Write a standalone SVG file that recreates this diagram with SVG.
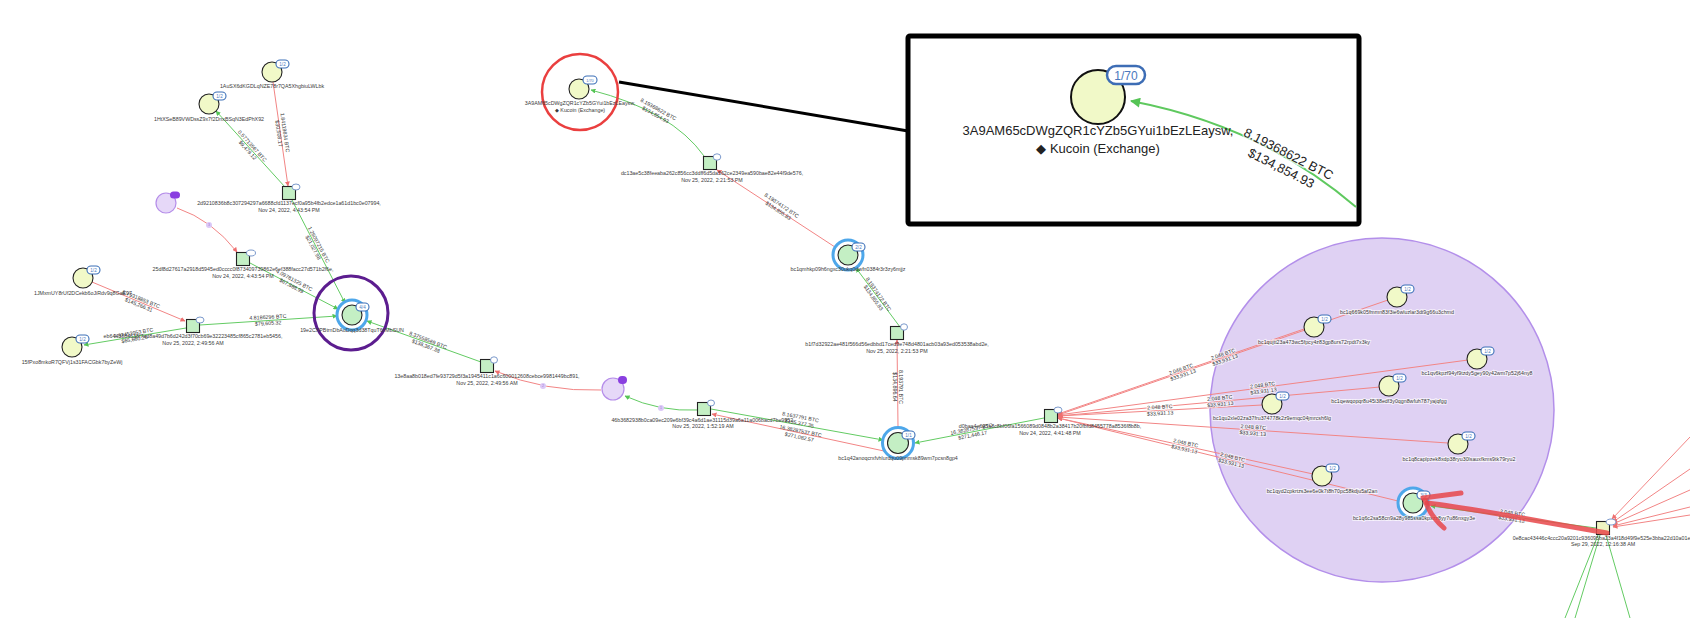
<svg xmlns="http://www.w3.org/2000/svg" width="1690" height="618" viewBox="0 0 1690 618">
<style>
text{font-family:"Liberation Sans",Arial,sans-serif}
.nl{font-size:5.3px;fill:#3a3a3a;text-anchor:middle}
.el{font-size:5.3px;fill:#333;text-anchor:middle}
.bt{font-size:4.6px;fill:#4a78bd;text-anchor:middle}
.addr{fill:#f1f9c8;stroke:#222;stroke-width:1.1}
.hub{fill:#c4efc4;stroke:#222;stroke-width:1.1}
.tx{fill:#c4efc4;stroke:#222;stroke-width:1.1}
.ty{fill:#eef5c2;stroke:#222;stroke-width:1.1}
.ring{fill:#fff;stroke:#4ea7ea;stroke-width:3}
.badge{fill:#fff;stroke:#3d70b8;stroke-width:1.1}
.txb{fill:#fff;stroke:#6d8fc6;stroke-width:0.9}
.g{stroke:#63cb63;stroke-width:1;fill:none}
.r{stroke:#f28585;stroke-width:1;fill:none}
.pc{fill:#e6d8f8;stroke:#b58de9;stroke-width:1.2}
.pb{fill:#8a3fe0}
.dot{fill:#dcc9f7}
.dt{font-size:3.5px;fill:#9a7ad6;text-anchor:middle}
.halo{paint-order:stroke;stroke:#fff;stroke-opacity:.6;stroke-width:2}
.scr{stroke:#e8474a;stroke-opacity:.85;stroke-width:5;fill:none;stroke-linecap:round;stroke-linejoin:round}
</style>
<defs>
<marker id="ag" viewBox="0 0 10 10" refX="9" refY="5" markerWidth="5" markerHeight="5" orient="auto" markerUnits="userSpaceOnUse"><path d="M0,0 L10,5 L0,10 z" fill="#55c455"/></marker>
<marker id="ar" viewBox="0 0 10 10" refX="9" refY="5" markerWidth="5" markerHeight="5" orient="auto" markerUnits="userSpaceOnUse"><path d="M0,0 L10,5 L0,10 z" fill="#ee6f6f"/></marker>
<marker id="agL" viewBox="0 0 10 10" refX="9" refY="5" markerWidth="11" markerHeight="10" orient="auto" markerUnits="userSpaceOnUse"><path d="M0,0 L10,5 L0,10 z" fill="#55c455"/></marker>
</defs>
<rect width="1690" height="618" fill="#fff"/>

<g id="cluster-bg"><circle cx="1382" cy="410" r="172" fill="#dfd1f3" stroke="#b38fea" stroke-width="1.5"/></g>

<g id="connectors">
<path class="g" marker-end="url(#ag)" d="M285,187 L216,111"/>
<path class="g" marker-end="url(#ag)" d="M292,200 L345,303"/>
<path class="g" marker-end="url(#ag)" d="M250,263 L338,309"/>
<path class="g" marker-end="url(#ag)" d="M186,328 L84,345"/>
<path class="g" marker-end="url(#ag)" d="M200,325 L337,316"/>
<path class="g" marker-end="url(#ag)" d="M481,362 L367,321"/>
<path class="g" marker-end="url(#ag)" d="M698,410 Q660,412 625,396"/>
<path class="g" marker-end="url(#ag)" d="M711,409 L883,440"/>
<path class="g" marker-end="url(#ag)" d="M1044,418 L915,443"/>
<path class="g" marker-end="url(#ag)" d="M900,327 L856,268"/>
<path class="g" marker-end="url(#ag)" d="M704,156 Q672,111 591,90"/>
<path class="g" marker-end="url(#ag)" d="M1596,528 L1431,506"/>
<path class="g" d="M1598,535 L1565,618"/>
<path class="g" d="M1600,535 L1575,618"/>
<path class="g" d="M1606,535 L1630,618"/>

<path class="r" marker-end="url(#ar)" d="M273,82 L288,186"/>
<path class="r" marker-end="url(#ar)" d="M177,208 Q212,220 237,252"/>
<path class="r" marker-end="url(#ar)" d="M92,282 L185,321"/>
<path class="r" marker-end="url(#ar)" d="M601,390 Q545,392 495,371"/>
<path class="r" marker-end="url(#ar)" d="M884,451 L712,414"/>
<path class="r" marker-end="url(#ar)" d="M898,427 L897,340"/>
<path class="r" marker-end="url(#ar)" d="M838,249 L717,170"/>
<path class="r" marker-end="url(#ar)" d="M1388,300 L1058,414"/>
<path class="r" marker-end="url(#ar)" d="M1305,330 L1058,415"/>
<path class="r" marker-end="url(#ar)" d="M1468,360 L1058,415"/>
<path class="r" marker-end="url(#ar)" d="M1380,387 L1058,416"/>
<path class="r" marker-end="url(#ar)" d="M1262,405 L1058,416"/>
<path class="r" marker-end="url(#ar)" d="M1448,443 L1058,417"/>
<path class="r" marker-end="url(#ar)" d="M1313,474 L1058,418"/>
<path class="r" marker-end="url(#ar)" d="M1398,501 L1058,418"/>
<path class="r" marker-end="url(#ar)" d="M1690,437 L1612,519"/>
<path class="r" marker-end="url(#ar)" d="M1690,469 L1613,522"/>
<path class="r" marker-end="url(#ar)" d="M1690,490 L1613,524"/>
<path class="r" marker-end="url(#ar)" d="M1690,507 L1613,526"/>
<path class="r" marker-end="url(#ar)" d="M1690,515 L1613,527"/>

<g id="edge-labels">
<g transform="translate(282,133) rotate(82)"><text class="el"><tspan x="0" y="-1.2">1.84119834 BTC</tspan><tspan x="0" y="5">$30,508.17</tspan></text></g>
<g transform="translate(250,148) rotate(48)"><text class="el"><tspan x="0" y="-1.2">0.57713567 BTC</tspan><tspan x="0" y="5">$9,479.12</tspan></text></g>
<g transform="translate(316,246) rotate(62)"><text class="el"><tspan x="0" y="-1.2">1.26097215 BTC</tspan><tspan x="0" y="5">$21,027.98</tspan></text></g>
<g transform="translate(293,283) rotate(28)"><text class="el"><tspan x="0" y="-1.2">4.09781325 BTC</tspan><tspan x="0" y="5">$67,888.99</tspan></text></g>
<g transform="translate(140,302) rotate(22)"><text class="el"><tspan x="0" y="-1.2">8.79318853 BTC</tspan><tspan x="0" y="5">$145,266.31</tspan></text></g>
<g transform="translate(134,336) rotate(-10)"><text class="el"><tspan x="0" y="-1.2">3.97453953 BTC</tspan><tspan x="0" y="5">$65,660.20</tspan></text></g>
<g transform="translate(268,320) rotate(-3)"><text class="el"><tspan x="0" y="-1.2">4.8186296 BTC</tspan><tspan x="0" y="5">$79,605.32</tspan></text></g>
<g transform="translate(427,343) rotate(21)"><text class="el"><tspan x="0" y="-1.2">8.37558569 BTC</tspan><tspan x="0" y="5">$138,367.38</tspan></text></g>
<g transform="translate(800,420) rotate(11)"><text class="el"><tspan x="0" y="-1.2">8.1637791 BTC</tspan><tspan x="0" y="5">$135,377.35</tspan></text></g>
<g transform="translate(800,434) rotate(12)"><text class="el"><tspan x="0" y="-1.2">16.38287537 BTC</tspan><tspan x="0" y="5">$271,082.57</tspan></text></g>
<g transform="translate(972,432) rotate(-11)"><text class="el"><tspan x="0" y="-1.2">16.38287537 BTC</tspan><tspan x="0" y="5">$271,446.17</tspan></text></g>
<g transform="translate(898,387) rotate(90)"><text class="el"><tspan x="0" y="-1.2">8.193791 BTC</tspan><tspan x="0" y="5">$134,896.64</tspan></text></g>
<g transform="translate(876,296) rotate(55)"><text class="el"><tspan x="0" y="-1.2">8.19374172 BTC</tspan><tspan x="0" y="5">$134,855.83</tspan></text></g>
<g transform="translate(780,208) rotate(34)"><text class="el"><tspan x="0" y="-1.2">8.19374172 BTC</tspan><tspan x="0" y="5">$134,855.83</tspan></text></g>
<g transform="translate(657,112) rotate(29)"><text class="el"><tspan x="0" y="-1.2">8.19368622 BTC</tspan><tspan x="0" y="5">$134,854.93</tspan></text></g>
<g transform="translate(1182,372) rotate(-19)"><text class="el halo"><tspan x="0" y="-1.2">2.048 BTC</tspan><tspan x="0" y="5">$33,931.13</tspan></text></g>
<g transform="translate(1224,357) rotate(-19)"><text class="el halo"><tspan x="0" y="-1.2">2.048 BTC</tspan><tspan x="0" y="5">$33,931.13</tspan></text></g>
<g transform="translate(1263,388) rotate(-7.6)"><text class="el halo"><tspan x="0" y="-1.2">2.048 BTC</tspan><tspan x="0" y="5">$33,931.13</tspan></text></g>
<g transform="translate(1220,401) rotate(-5)"><text class="el halo"><tspan x="0" y="-1.2">2.048 BTC</tspan><tspan x="0" y="5">$33,931.13</tspan></text></g>
<g transform="translate(1160,410) rotate(-3)"><text class="el halo"><tspan x="0" y="-1.2">2.048 BTC</tspan><tspan x="0" y="5">$33,931.13</tspan></text></g>
<g transform="translate(1253,430) rotate(4)"><text class="el halo"><tspan x="0" y="-1.2">2.048 BTC</tspan><tspan x="0" y="5">$33,931.13</tspan></text></g>
<g transform="translate(1185,446) rotate(12.4)"><text class="el halo"><tspan x="0" y="-1.2">2.048 BTC</tspan><tspan x="0" y="5">$33,931.13</tspan></text></g>
<g transform="translate(1232,460) rotate(13.7)"><text class="el halo"><tspan x="0" y="-1.2">2.048 BTC</tspan><tspan x="0" y="5">$33,931.13</tspan></text></g>
<g transform="translate(1512,516) rotate(8)"><text class="el halo"><tspan x="0" y="-1.2">2.048 BTC</tspan><tspan x="0" y="5">$33,931.13</tspan></text></g>
<circle class="dot" cx="209" cy="225" r="3"/><text class="dt" x="209" y="226.2">3</text>
<circle class="dot" cx="543" cy="386" r="3"/><text class="dt" x="543" y="387.2">2</text>
<circle class="dot" cx="661" cy="408" r="3"/><text class="dt" x="661" y="409.2">1</text>
</g>
</g>

<g id="n-A1"><circle class="addr" cx="272" cy="72" r="10"/><rect class="badge" x="276" y="60" width="13" height="8" rx="4"/><text class="bt" x="282.5" y="65.7">1/2</text><text class="nl" x="272" y="88">1AuSX6dKGDLqNZE78r7QA5XhgbiuLWLbk</text></g>
<g id="n-A2"><circle class="addr" cx="209" cy="104" r="10"/><rect class="badge" x="213" y="92" width="13" height="8" rx="4"/><text class="bt" x="219.5" y="97.7">1/2</text><text class="nl" x="209" y="120.5">1HtXSeB89VWDssZ9x7f2DnxBSqN3EdPhX92</text></g>
<g id="n-T1"><rect class="tx" x="282.5" y="186.5" width="13" height="13"/><ellipse class="txb" cx="296" cy="187" rx="4" ry="3"/><text class="nl"><tspan x="289" y="205">2d9210836b8c307294297a6688cfd1137ecf0a95b4fb2edce1a61d1bc0e07994,</tspan><tspan x="289" y="211.5">Nov 24, 2022, 4:43:54 PM</tspan></text></g>
<g id="n-P1"><circle class="pc" cx="166" cy="203" r="10"/><rect class="pb" x="170" y="191.5" width="10" height="7" rx="3.5"/></g>
<g id="n-T2"><rect class="tx" x="236.5" y="252.5" width="13" height="13"/><ellipse class="txb" cx="251" cy="253" rx="4.5" ry="3"/><text class="nl"><tspan x="243" y="271">25df8d27617a2918d5945ed0cccc0f873409739862e6ef388facc27d571b2f6e,</tspan><tspan x="243" y="277.5">Nov 24, 2022, 4:43:54 PM</tspan></text></g>
<g id="n-D1"><circle class="addr" cx="83" cy="278" r="10"/><rect class="badge" x="87" y="266" width="13" height="8" rx="4"/><text class="bt" x="93.5" y="271.7">1/2</text><text class="nl" x="83" y="294.5">1JMxmUY8rUf2DCekb6oJiRdv9q8GaE97</text></g>
<g id="n-D2"><circle class="addr" cx="72" cy="347" r="10"/><rect class="badge" x="76" y="335" width="13" height="8" rx="4"/><text class="bt" x="82.5" y="340.7">1/2</text><text class="nl" x="72" y="363.5">15fPxo8mkoR7QFVj1s31FACGbk7byZeWj</text></g>
<g id="n-T5"><rect class="tx" x="186.5" y="319.5" width="13" height="13"/><ellipse class="txb" cx="200" cy="320" rx="4" ry="3"/><text class="nl"><tspan x="193" y="338">eb6443884638f7ad8a49d7b6d242d3f70cb69e32223485cf865c2781eb5456,</tspan><tspan x="193" y="344.5">Nov 25, 2022, 2:49:56 AM</tspan></text></g>
<g id="n-H"><circle cx="351" cy="313" r="37" fill="none" stroke="#5c1d8f" stroke-width="3"/><circle class="ring" cx="352" cy="315" r="15"/><circle class="hub" cx="352" cy="315" r="10"/><rect class="badge" x="356" y="303" width="13" height="8" rx="4"/><text class="bt" x="362.5" y="308.7">4/4</text><text class="nl" x="352" y="332">19e2CXPBtrnDbAuDqq3d38TquT6zMbSUN</text></g>
<g id="n-T6"><rect class="tx" x="480.5" y="359.5" width="13" height="13"/><ellipse class="txb" cx="494" cy="360" rx="3.5" ry="3.2"/><text class="nl"><tspan x="487" y="378">13e8aa8b018ed7fe93729d5f3a1945411c1a6c600012608cebce9981449bc891,</tspan><tspan x="487" y="384.5">Nov 25, 2022, 2:49:56 AM</tspan></text></g>
<g id="n-P2"><circle class="pc" cx="613" cy="389" r="11"/><rect class="pb" x="618" y="376" width="9" height="8" rx="4"/></g>
<g id="n-T7"><rect class="tx" x="697.5" y="402.5" width="13" height="13"/><ellipse class="txb" cx="711" cy="403" rx="3.5" ry="3"/><text class="nl"><tspan x="703" y="421.5">46b3682938b0ca09ec209e6bf39c4a6d1ae31115d39a6a11a006bacd7be9952,</tspan><tspan x="703" y="428">Nov 25, 2022, 1:52:19 AM</tspan></text></g>
<g id="n-C"><circle class="ring" cx="898" cy="443" r="15.5"/><circle class="hub" cx="898" cy="443" r="10.5"/><rect class="badge" x="902" y="431" width="13" height="8" rx="4"/><text class="bt" x="908.5" y="436.7">1/1</text><text class="nl" x="898" y="460">bc1q42anoqcrxfvhlurdqu09pnmsk89wm7pcsn8gp4</text></g>
<g id="n-T4"><rect class="tx" x="890.5" y="326.5" width="13" height="13"/><ellipse class="txb" cx="904" cy="327" rx="3.5" ry="3.2"/><text class="nl"><tspan x="897" y="346">b1f7d32922ae481f566d56edbbd17ced9e748d4801acb03a93ed053538abd2e,</tspan><tspan x="897" y="352.5">Nov 25, 2022, 2:21:53 PM</tspan></text></g>
<g id="n-B1"><circle class="ring" cx="848" cy="255" r="15"/><circle class="hub" cx="848" cy="255" r="10"/><rect class="badge" x="852" y="243" width="13" height="8" rx="4"/><text class="bt" x="858.5" y="248.7">2/2</text><text class="nl" x="848" y="271">bc1qmhkp09h6ngxc30ukq0dwfn0384r3r3zy6mjjz</text></g>
<g id="n-T3"><rect class="tx" x="703.5" y="156.5" width="13" height="13"/><ellipse class="txb" cx="717" cy="157" rx="3.8" ry="3.2"/><text class="nl"><tspan x="712" y="175">dc13ae5c38feeaba262c856cc3ddff6d5da562ce2349ea590bae82e44f9de576,</tspan><tspan x="712" y="181.5">Nov 25, 2022, 2:21:53 PM</tspan></text></g>
<g id="n-K"><circle cx="580" cy="92" r="38" fill="none" stroke="#ea3f3f" stroke-width="2.5"/><circle class="addr" cx="579" cy="89" r="10"/><rect class="badge" x="583" y="76" width="14" height="8" rx="4"/><text class="bt" x="590" y="81.5" style="font-size:3.8px">1/70</text><text class="nl"><tspan x="580" y="104.5">3A9AM65cDWgZQR1cYZb5GYui1bEzLEaysw,</tspan><tspan x="580" y="111.5">◆ Kucoin (Exchange)</tspan></text></g>
<g id="n-T8"><rect class="tx" x="1044.5" y="409.5" width="13" height="13"/><ellipse class="txb" cx="1058" cy="410" rx="4" ry="3"/><text class="nl"><tspan x="1050" y="428">d0baa4e625a8c8bf06fa1566089d0848b2a38417b20fbfd8455778a8536f8b8b,</tspan><tspan x="1050" y="434.5">Nov 24, 2022, 4:41:48 PM</tspan></text></g>
<g id="n-R1"><circle class="addr" cx="1397" cy="297" r="10"/><rect class="badge" x="1401" y="285" width="13" height="8" rx="4"/><text class="bt" x="1407.5" y="290.7">1/2</text><text class="nl halo" x="1397" y="313.5">bc1q669k05fmmn83f3ie6wluzlar3dt9g66u3chmd</text></g>
<g id="n-R2"><circle class="addr" cx="1314" cy="327" r="10"/><rect class="badge" x="1318" y="315" width="13" height="8" rx="4"/><text class="bt" x="1324.5" y="320.7">1/2</text><text class="nl halo" x="1314" y="343.5">bc1qujtt23a473wc5fpcy4z83gp8urs72rpdt7x3ky</text></g>
<g id="n-R3"><circle class="addr" cx="1477" cy="359" r="10"/><rect class="badge" x="1481" y="347" width="13" height="8" rx="4"/><text class="bt" x="1487.5" y="352.7">1/2</text><text class="nl halo" x="1477" y="375">bc1qv6kpzf94yf9tzdy5gey90y42wm7p52j64ny8</text></g>
<g id="n-R4"><circle class="addr" cx="1389" cy="386" r="10"/><rect class="badge" x="1393" y="374" width="13" height="8" rx="4"/><text class="bt" x="1399.5" y="379.7">1/2</text><text class="nl halo" x="1389" y="402.5">bc1qewqopqr8u45i38edf3y0qgn8wfuh787yajqfgg</text></g>
<g id="n-R5"><circle class="addr" cx="1272" cy="404" r="10"/><rect class="badge" x="1276" y="392" width="13" height="8" rx="4"/><text class="bt" x="1282.5" y="397.7">1/2</text><text class="nl halo" x="1272" y="420">bc1qu2xle02za37fru374778k2z9emqc04jmrcsh6lg</text></g>
<g id="n-R6"><circle class="addr" cx="1458" cy="444" r="10"/><rect class="badge" x="1462" y="432" width="13" height="8" rx="4"/><text class="bt" x="1468.5" y="437.7">1/2</text><text class="nl halo" x="1459" y="460.5">bc1q8caplpzek8xdp38ryu30lsauxfkms9tk79ryu2</text></g>
<g id="n-R7"><circle class="addr" cx="1322" cy="476" r="10"/><rect class="badge" x="1326" y="464" width="13" height="8" rx="4"/><text class="bt" x="1332.5" y="469.7">1/2</text><text class="nl halo" x="1322" y="492.5">bc1qyd2cpkrtzs3ee6e0k7t8h70pc58kdju5af2an</text></g>
<g id="n-R8"><circle class="ring" cx="1413" cy="503" r="15"/><circle class="hub" cx="1413" cy="503" r="10"/><rect class="badge" x="1417" y="491" width="13" height="8" rx="4"/><text class="bt" x="1423.5" y="496.7">3/3</text><text class="nl halo" x="1414" y="520">bc1q6c2sa58cn9a28y985ssa0kpxzz8yy7u86nxgy3e</text></g>
<g id="n-T9"><rect class="ty" x="1596.5" y="521.5" width="13" height="13"/><ellipse class="txb" cx="1611" cy="522" rx="5" ry="3"/><text class="nl"><tspan x="1603" y="539.5">0e8cac43446c4ccc20a9201c936095ba23a4f18d49f9e525e3bba22d10a01eb</tspan><tspan x="1603" y="546">Sep 29, 2022, 12:16:38 AM</tspan></text></g>

<g id="annotation-scribble">
<path class="scr" d="M1423,498 L1461,493"/>
<path class="scr" d="M1427,503 C1460,507 1500,514 1550,523 L1607,533"/>
<path class="scr" d="M1425,500 C1428,510 1435,520 1444,528"/>
</g>

<g id="callout">
<line x1="619" y1="82" x2="908" y2="131" stroke="#000" stroke-width="3"/>
<rect x="908" y="36" width="451" height="188" rx="2" fill="#fff" stroke="#000" stroke-width="5"/>
<path d="M1356,207 Q1262,126 1131,101" fill="none" stroke="#5fc95f" stroke-width="2" marker-end="url(#agL)"/>
<circle cx="1098" cy="97" r="27" fill="#f1f9c8" stroke="#111" stroke-width="2"/>
<rect x="1107" y="66" width="38" height="18" rx="9" fill="#fff" stroke="#3d6db5" stroke-width="2.5"/>
<text x="1126" y="79.5" style="font-size:12px;fill:#4a78bd;text-anchor:middle">1/70</text>
<text style="font-size:13px;fill:#222;text-anchor:middle"><tspan x="1098" y="135">3A9AM65cDWgZQR1cYZb5GYui1bEzLEaysw,</tspan><tspan x="1098" y="152.5">◆ Kucoin (Exchange)</tspan></text>
<g transform="translate(1285,161) rotate(27)"><text style="font-size:13px;fill:#222;text-anchor:middle;paint-order:stroke;stroke:#fff;stroke-width:3;stroke-opacity:.7"><tspan x="0" y="-3.5">8.19368622 BTC</tspan><tspan x="0" y="12.5">$134,854.93</tspan></text></g>
</g>
</svg>
